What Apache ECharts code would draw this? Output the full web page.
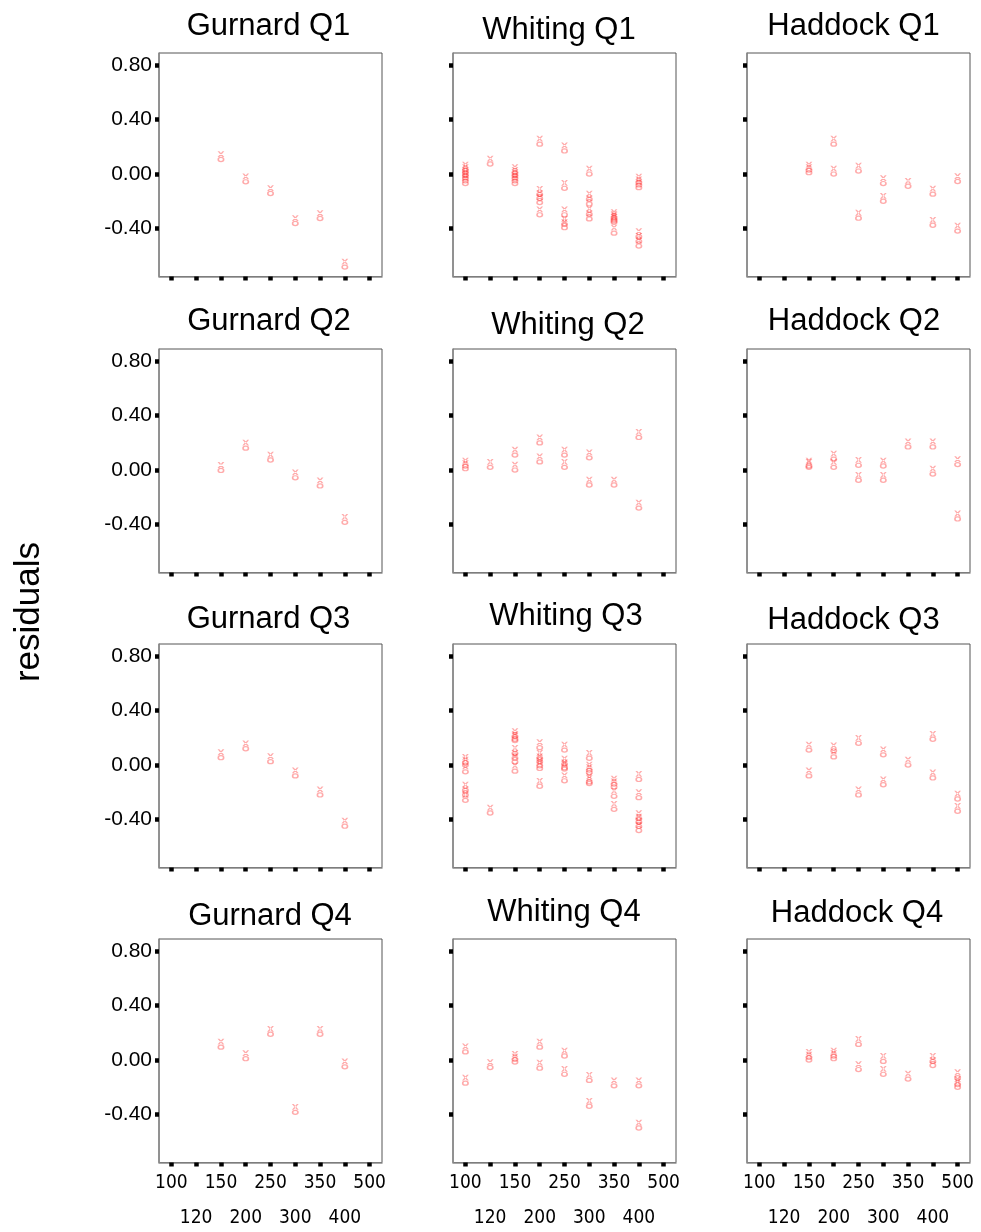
<!DOCTYPE html>
<html>
<head>
<meta charset="utf-8">
<script src="https://cdn.jsdelivr.net/npm/echarts@6/dist/echarts.min.js"></script>
<style>
  html, body { margin: 0; padding: 0; background: #fff; }
  #chart { width: 981px; height: 1232px; }
</style>
</head>
<body>
<div id="chart"></div>
<script>
// Length classes (category axis) and residual tick values
const lengths = ['100', '120', '150', '200', '250', '300', '350', '400', '500'];
const yTicks = [-0.4, 0, 0.4, 0.8];
const species = ['Gurnard', 'Whiting', 'Haddock'];
const quarters = ['Q1', 'Q2', 'Q3', 'Q4'];

// Residuals per length class: [length, residual]
const gurnardQ1 = [[150, 0.127], [200, -0.037], [250, -0.123], [300, -0.344], [350, -0.307], [400, -0.665]];
const whitingQ1 = [[100, 0.05], [100, 0.03], [100, 0.01], [100, -0.01], [100, -0.03], [100, -0.05],
  [120, 0.094],
  [150, 0.03], [150, 0.01], [150, -0.01], [150, -0.03], [150, -0.05],
  [200, 0.24], [200, -0.13], [200, -0.16], [200, -0.19], [200, -0.28],
  [250, 0.19], [250, -0.085], [250, -0.28], [250, -0.35], [250, -0.375],
  [300, 0.02], [300, -0.165], [300, -0.2], [300, -0.275], [300, -0.31],
  [350, -0.30], [350, -0.315], [350, -0.325], [350, -0.335], [350, -0.415],
  [400, -0.04], [400, -0.06], [400, -0.08], [400, -0.44], [400, -0.475], [400, -0.51]];
const haddockQ1 = [[150, 0.05], [150, 0.03], [200, 0.24], [200, 0.02], [250, 0.042], [250, -0.305],
  [300, -0.05], [300, -0.18], [350, -0.07], [400, -0.128], [400, -0.357], [500, -0.035], [500, -0.40]];

const gurnardQ2 = [[150, 0.017], [200, 0.181], [250, 0.094], [300, -0.037], [350, -0.097], [400, -0.365]];
const whitingQ2 = [[100, 0.03], [100, 0.05], [120, 0.04], [150, 0.13], [150, 0.02], [200, 0.22], [200, 0.08],
  [250, 0.13], [250, 0.04], [300, 0.11], [300, -0.09], [350, -0.09], [400, 0.26], [400, -0.26]];
const haddockQ2 = [[150, 0.04], [150, 0.05], [200, 0.10], [200, 0.04], [250, 0.055], [250, -0.055],
  [300, 0.05], [300, -0.055], [350, 0.19], [400, 0.19], [400, -0.01], [500, 0.06], [500, -0.34]];

const gurnardQ3 = [[150, 0.074], [200, 0.14], [250, 0.045], [300, -0.06], [350, -0.20], [400, -0.43]];
const whitingQ3 = [[100, 0.04], [100, 0.02], [100, -0.03], [100, -0.165], [100, -0.20], [100, -0.24],
  [120, -0.333],
  [150, 0.23], [150, 0.21], [150, 0.20], [150, 0.106], [150, 0.07], [150, 0.044], [150, -0.025],
  [200, 0.148], [200, 0.07], [200, 0.044], [200, 0.015], [200, -0.005], [200, -0.136],
  [250, 0.13], [250, 0.027], [250, 0.0], [250, -0.01], [250, -0.096],
  [300, 0.07], [300, -0.017], [300, -0.035], [300, -0.104], [300, -0.116],
  [350, -0.12], [350, -0.14], [350, -0.21], [350, -0.306],
  [400, -0.086], [400, -0.22], [400, -0.375], [400, -0.40], [400, -0.432], [400, -0.462]];
const haddockQ3 = [[150, 0.13], [150, -0.06], [200, 0.125], [200, 0.08], [250, 0.18], [250, -0.2],
  [300, 0.095], [300, -0.125], [350, 0.02], [400, 0.21], [400, -0.075], [500, -0.23], [500, -0.32]];

const gurnardQ4 = [[150, 0.115], [200, 0.03], [250, 0.21], [300, -0.365], [350, 0.21], [400, -0.03]];
const whitingQ4 = [[100, 0.08], [100, -0.15], [120, -0.035], [150, 0.025], [150, 0.005], [200, 0.115], [200, -0.04],
  [250, 0.05], [250, -0.085], [300, -0.13], [300, -0.32], [350, -0.17], [400, -0.17], [400, -0.48]];
const haddockQ4 = [[150, 0.04], [150, 0.02], [200, 0.05], [200, 0.03], [250, 0.135], [250, -0.05],
  [300, 0.01], [300, -0.085], [350, -0.12], [400, 0.01], [400, -0.02], [500, -0.11], [500, -0.16], [500, -0.18]];

const panels = [
  [gurnardQ1, whitingQ1, haddockQ1],
  [gurnardQ2, whitingQ2, haddockQ2],
  [gurnardQ3, whitingQ3, haddockQ3],
  [gurnardQ4, whitingQ4, haddockQ4]
];

// Panel layout (pixels)
const colLeft = [159, 453, 747];
const rowTop = [53, 349, 644, 939];
const boxW = 223, boxH = 223.5;
const titlePos = [
  [[268.5, 26], [559, 30], [853.5, 26]],
  [[269, 321], [568, 325], [854, 321]],
  [[268.5, 619], [566, 616], [853.5, 620]],
  [[270, 916], [564, 912], [857, 913]]
];

// Small outlined glyph: ring with two crossed strokes above
const glyph = 'path://M8.5 11A3.5 3.5 0 1 1 1.5 11A3.5 3.5 0 1 1 8.5 11Z' +
  'M6.9 11A1.9 1.9 0 1 0 3.1 11A1.9 1.9 0 1 0 6.9 11Z' +
  'M1.6 0L3.4 0L8.4 7.6L6.6 7.6Z M8.4 0L6.6 0L1.6 7.6L3.4 7.6Z';

const font = 'Arial, "Liberation Sans", sans-serif';
const grids = [], xAxes = [], yAxes = [], series = [], graphics = [];

panels.forEach((row, r) => {
  row.forEach((pts, c) => {
    const idx = grids.length;
    const bottomRow = r === quarters.length - 1;
    grids.push({
      left: colLeft[c], top: rowTop[r], width: boxW, height: boxH,
      outerBoundsMode: 'none', containLabel: false,
      show: true, borderColor: '#555', borderWidth: 1, backgroundColor: '#fff'
    });
    xAxes.push({
      type: 'category', gridIndex: idx, data: lengths, boundaryGap: true,
      axisLine: { show: true, onZero: false, lineStyle: { color: '#8a8a8a', width: 1.5 } },
      axisTick: { show: true, alignWithLabel: true, interval: 0, length: 4, lineStyle: { color: '#000', width: 4.5 } },
      splitLine: { show: false },
      axisLabel: {
        show: bottomRow, interval: 0, margin: 3,
        fontFamily: '"Liberation Sans Narrow", "DejaVu Sans Condensed", Arial, sans-serif',
        fontSize: 19, color: '#000', lineHeight: 35,
        formatter: (v, i) => (i % 2 ? '\n' + v : v)
      }
    });
    yAxes.push({
      type: 'value', gridIndex: idx, min: -0.755, max: 0.89,
      axisLine: { show: true, onZero: false, lineStyle: { color: '#8a8a8a', width: 1.5 } },
      axisTick: { show: true, customValues: yTicks, length: 4, lineStyle: { color: '#000', width: 4.5 } },
      splitLine: { show: false },
      axisLabel: {
        show: c === 0, customValues: yTicks, margin: 7,
        fontFamily: font, fontSize: 21, color: '#000',
        formatter: v => v.toFixed(2)
      }
    });
    series.push({
      type: 'scatter', xAxisIndex: idx, yAxisIndex: idx,
      symbol: glyph, symbolSize: [7, 11],
      itemStyle: { color: 'rgba(255, 45, 45, 0.5)' },
      data: pts.map(p => [String(p[0]), p[1]]),
      silent: true
    });
    const tp = titlePos[r][c];
    graphics.push({
      type: 'text', x: tp[0], y: tp[1],
      style: {
        text: species[c] + ' ' + quarters[r],
        font: '31px ' + font, fill: '#000',
        textAlign: 'center', textVerticalAlign: 'middle'
      }
    });
  });
});

graphics.push({
  type: 'text', x: 29, y: 612, rotation: Math.PI / 2,
  style: {
    text: 'residuals', font: '35px ' + font, fill: '#000',
    textAlign: 'center', textVerticalAlign: 'middle'
  }
});

const chart = echarts.init(document.getElementById('chart'), null, { renderer: 'canvas' });
chart.setOption({
  animation: false,
  backgroundColor: '#fff',
  grid: grids,
  xAxis: xAxes,
  yAxis: yAxes,
  series: series,
  graphic: graphics
});
</script>
</body>
</html>
